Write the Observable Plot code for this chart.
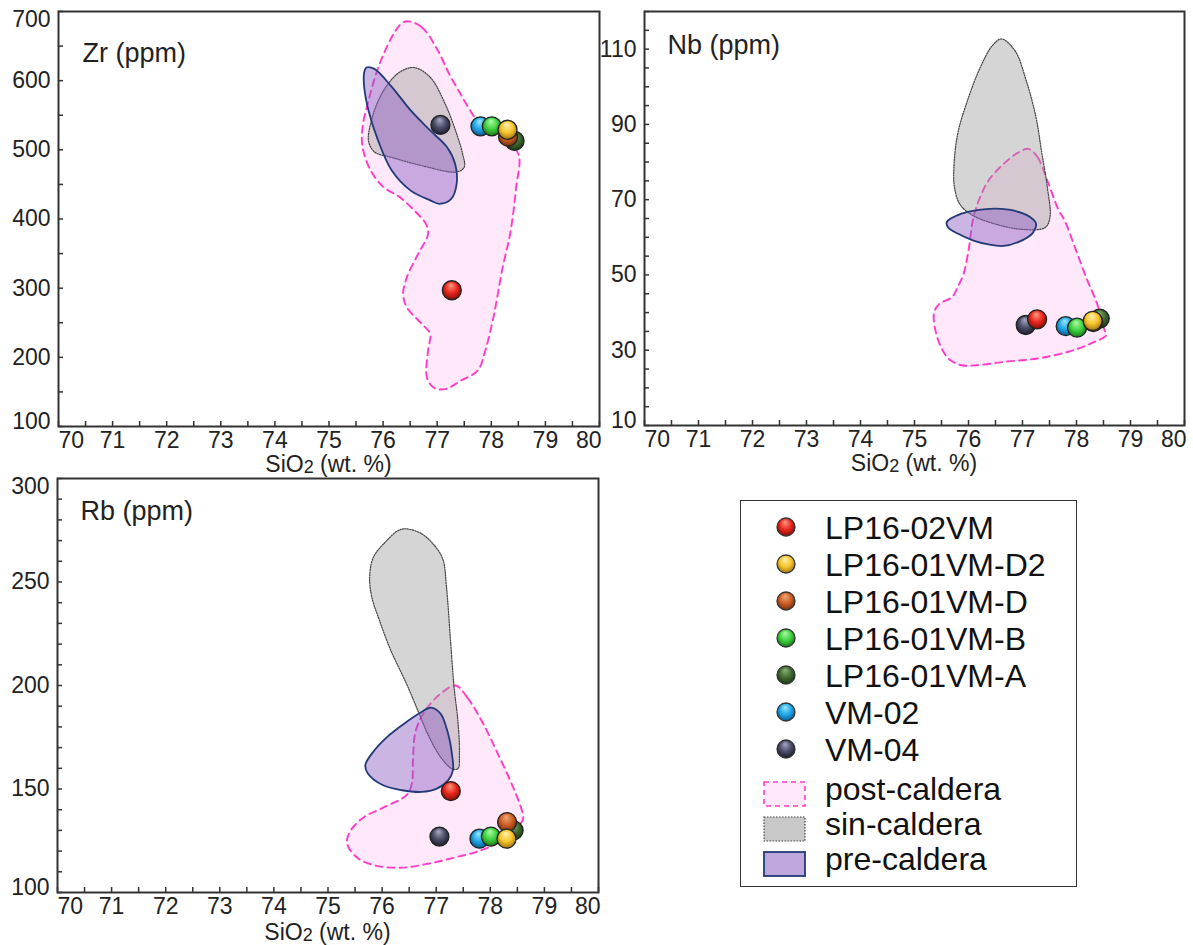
<!DOCTYPE html>
<html><head><meta charset="utf-8">
<script src="https://cdn.jsdelivr.net/npm/d3@7"></script>
<script src="https://cdn.jsdelivr.net/npm/@observablehq/plot@0.6"></script>
<style>
body{margin:0;background:#fff;font-family:"Liberation Sans",Arial,sans-serif;}
#root{position:relative;width:1193px;height:945px;overflow:hidden;background:#fff;}
.panel{position:absolute;}
.xlab{position:absolute;font-size:23px;color:#222;transform:translate(-50%,-50%);white-space:nowrap;line-height:1;}
.xlab span{font-size:18px;position:relative;top:1px;}
</style></head><body><div id="root"></div><script>
// ---- samples ----
const samples = ["LP16-02VM","LP16-01VM-D2","LP16-01VM-D","LP16-01VM-B","LP16-01VM-A","VM-02","VM-04"];
const sampleBase  = ["#e8261e","#f8c52c","#cc5f26","#3fd03f","#3f6a31","#1fa7e6","#4a4c66"];
const sampleLight = ["#ff9a80","#fff2b0","#f2a878","#b0fca8","#8ab47a","#9ee6ff","#a8aac6"];
const sampleDark  = ["#7a0c06","#9a7010","#6e2a0c","#167016","#1a3410","#0a5488","#1a1a2c"];
const sio2 = [77.27, 78.30, 78.31, 78.01, 78.43, 77.80, 77.06];
const zr = [297, 529, 519, 534, 513, 534, 536];
const nb = [38.2, 37.8, 37.5, 36.0, 38.4, 36.4, 36.7];
const rb = [149, 126, 134, 127, 130, 126, 127];
const drawOrder = [6, 5, 3, 4, 2, 1, 0];

// ---- fields [SiO2, ppm] ----
const zrPost = [[76.45,686],[76.72,677],[77.01,644],[77.22,610],[77.43,581],[77.61,557],[77.75,542],[78.14,523],[78.50,494],[78.46,446],[78.35,379],[78.21,330],[78.04,258],[77.89,210],[77.75,181],[77.43,166],[77.15,154],[76.94,156],[76.81,171],[76.83,210],[76.87,234],[76.72,248],[76.44,272],[76.37,292],[76.44,316],[76.65,350],[76.83,378],[76.79,393],[76.58,412],[76.30,432],[76.01,446],[75.77,470],[75.62,504],[75.62,533],[75.73,571],[75.91,619],[76.16,663],[76.33,682]];
const zrSin = [[76.57,619],[76.87,605],[77.15,566],[77.36,523],[77.47,494],[77.50,475],[77.36,468],[76.72,477],[76.16,489],[75.84,497],[75.73,513],[75.77,538],[75.91,571],[76.09,595],[76.30,612]];
const zrPre = [[75.69,619],[75.84,617],[76.16,591],[76.51,557],[76.87,528],[77.18,504],[77.33,480],[77.36,451],[77.26,429],[77.04,422],[76.87,427],[76.51,441],[76.16,470],[75.91,513],[75.73,557],[75.65,591],[75.65,612]];

const nbPost = [[77.11,83.5],[77.28,81.3],[77.46,75.1],[77.67,67.2],[77.78,64.5],[77.99,56.6],[78.20,48.6],[78.38,42.4],[78.52,35.3],[78.55,34.0],[78.27,31.8],[77.85,29.6],[77.28,27.8],[76.72,27.0],[76.15,26.0],[75.87,26.0],[75.66,27.4],[75.52,30.0],[75.40,34.5],[75.36,39.8],[75.45,42.2],[75.70,44.2],[75.80,46.8],[75.91,50.4],[76.01,57.4],[76.08,64.5],[76.19,69.8],[76.37,75.1],[76.65,79.5],[76.93,82.6]];
const nbSin = [[76.61,112.7],[76.86,109.6],[77.07,101.6],[77.25,91.9],[77.35,83.1],[77.46,73.3],[77.51,65.4],[77.42,62.6],[77.00,62.1],[76.58,63.2],[76.08,65.8],[75.84,68.8],[75.74,73.3],[75.73,78.6],[75.80,87.5],[75.98,96.3],[76.22,105.2],[76.44,110.9]];
const nbPre = [[75.60,64.1],[75.87,66.3],[76.15,67.2],[76.51,67.6],[76.86,67.0],[77.14,65.4],[77.25,63.7],[77.18,61.0],[76.93,58.8],[76.65,57.7],[76.37,58.1],[76.08,59.2],[75.80,61.0],[75.62,62.7]];

const rbPost = [[77.36,200],[77.58,194],[77.86,182],[78.14,167],[78.42,151],[78.60,138],[78.60,135],[78.42,130],[78.14,124],[77.79,120],[77.36,117],[76.87,114],[76.37,112],[75.88,113],[75.53,117],[75.35,124],[75.42,130],[75.67,136.5],[76.02,141],[76.45,147],[76.55,152.6],[76.57,164],[76.62,178],[76.80,188],[77.08,196]];
const rbSin = [[76.45,275.7],[76.73,273.3],[76.94,268.5],[77.12,261.2],[77.19,247.5],[77.26,223.4],[77.33,199.3],[77.40,183.2],[77.43,167.1],[77.40,159.8],[77.29,159.8],[77.08,165.5],[76.87,175.1],[76.66,188],[76.45,200.9],[76.16,217],[75.95,231.5],[75.81,242.7],[75.77,252.4],[75.84,262],[76.09,270.1],[76.30,274.9]];
const rbPre = [[76.90,189.3],[77.08,186.4],[77.22,176.7],[77.29,167.1],[77.31,159],[77.22,154.2],[77.01,150.2],[76.73,148.6],[76.37,149.4],[76.02,151.8],[75.74,157.4],[75.69,161.5],[75.81,167.1],[76.09,175.1],[76.45,182.4],[76.73,187.2]];

const fieldNames = ["post-caldera","sin-caldera","pre-caldera"];

// ---- ticks ----
const xMinor = d3.range(70, 80.25, 0.5);
const xLabels = d3.range(70, 80.5, 1);
const zrMinor = d3.range(100, 701, 50), zrLabels = d3.range(100, 701, 100);
const nbMinor = d3.range(10, 121, 5),   nbLabels = d3.range(10, 111, 20);
const rbMinor = d3.range(100, 301, 10), rbLabels = d3.range(100, 301, 50);

// ---- gradient defs ----
const NS = "http://www.w3.org/2000/svg";
const root = document.getElementById("root");
const defsSvg = document.createElementNS(NS, "svg");
defsSvg.setAttribute("width", 0); defsSvg.setAttribute("height", 0);
defsSvg.style.position = "absolute";
let defsHtml = "<defs>";
samples.forEach((s, i) => {
  defsHtml += `<radialGradient id="grad${i}" cx="50%" cy="45%" r="58%" fx="45%" fy="22%">
    <stop offset="0%" stop-color="${sampleLight[i]}"/>
    <stop offset="55%" stop-color="${sampleBase[i]}"/>
    <stop offset="100%" stop-color="${sampleDark[i]}"/></radialGradient>`;
});
defsHtml += "</defs>";
defsSvg.innerHTML = defsHtml;
root.appendChild(defsSvg);

const fieldStyles = [
  {fill: "#ff5ad2", fillOpacity: 0.14, stroke: "#ff3cc8", strokeWidth: 1.9, strokeDasharray: "7,5"},
  {fill: "#9a9a9a", fillOpacity: 0.42, stroke: "#444", strokeWidth: 1.2, strokeDasharray: "1.3,1.3"},
  {fill: "#8a5cc0", fillOpacity: 0.45, stroke: "#243a78", strokeWidth: 1.8}
];
const TXT = {fontSize: 23, fill: "#222"};

function panel({fields, values, yDomain, yMinor, yLabels, title, tdx, tdy, width, height, ml, mr, mt, mb, left, top, labOff}) {
  const pts = drawOrder.map(i => ({s: samples[i], x: sio2[i], y: values[i], g: `url(#grad${i})`}));
  const fieldMarks = fields.map((f, k) => Plot.line(f, {x: d => d[0], y: d => d[1], curve: "catmull-rom-closed", ...fieldStyles[k]}));
  const xFirst = xLabels[0], xLast = xLabels[xLabels.length - 1];
  const xMid = xLabels.slice(1, -1);
  const [y0, y1] = yDomain;
  const yBottom = yLabels.filter(v => v === y0);
  const yTop = yLabels.filter(v => v === y1);
  const yMid = yLabels.filter(v => v !== y0 && v !== y1);
  const p = Plot.plot({
    width, height, marginLeft: ml, marginRight: mr, marginTop: mt, marginBottom: mb,
    style: {background: "transparent", fontFamily: "'Liberation Sans', Arial, sans-serif", overflow: "visible"},
    x: {domain: [70, 80]},
    y: {domain: yDomain},
    color: {type: "identity"},
    marks: [
      ...fieldMarks,
      Plot.dot(pts, {x: "x", y: "y", r: 9.5, fill: "g", stroke: "#222", strokeWidth: 1.3}),
      Plot.axisX(xMinor, {tickSize: -5, tickFormat: () => "", label: null, stroke: "#333", strokeWidth: 1.5}),
      Plot.axisY(yMinor, {tickSize: -5, tickFormat: () => "", label: null, stroke: "#333", strokeWidth: 1.5}),
      Plot.text(xMid, {x: d => d, text: d => String(d), frameAnchor: "bottom", lineAnchor: "top", dy: 5, ...TXT}),
      Plot.text([xFirst], {x: d => d, text: d => String(d), frameAnchor: "bottom", lineAnchor: "top", dy: 5, textAnchor: "start", dx: 0, ...TXT}),
      Plot.text([xLast], {x: d => d, text: d => String(d), frameAnchor: "bottom", lineAnchor: "top", dy: 5, textAnchor: "end", dx: 2, ...TXT}),
      Plot.text(yMid, {y: d => d, text: d => String(d), frameAnchor: "left", textAnchor: "end", dx: -8, ...TXT}),
      Plot.text(yBottom, {y: d => d, text: d => String(d), frameAnchor: "left", textAnchor: "end", lineAnchor: "bottom", dx: -8, dy: 2, ...TXT}),
      Plot.text(yTop, {y: d => d, text: d => String(d), frameAnchor: "left", textAnchor: "end", lineAnchor: "top", dx: -8, dy: -1, ...TXT}),
      Plot.frame({stroke: "#333", strokeWidth: 2}),
      Plot.text([title], {text: d => d, frameAnchor: "top-left", dx: tdx, dy: tdy, lineAnchor: "top", textAnchor: "start", fontSize: 27, fill: "#222"})
    ]
  });
  p.classList.add("panel");
  p.style.left = left + "px";
  p.style.top = top + "px";
  root.appendChild(p);
  const lab = document.createElement("div");
  lab.className = "xlab";
  lab.innerHTML = "SiO<span>2</span> (wt. %)";
  lab.style.left = (left + ml + (width - ml - mr) / 2) + "px";
  lab.style.top = (top + height - mb + labOff) + "px";
  root.appendChild(lab);
}

panel({fields: [zrPost, zrSin, zrPre], values: zr, yDomain: [100, 700],
  yMinor: zrMinor, yLabels: zrLabels, title: "Zr (ppm)", tdx: 24, tdy: 31,
  width: 620, height: 480, ml: 58, mr: 21, mt: 11, mb: 54, left: 0, top: 0, labOff: 38});
panel({fields: [nbPost, nbSin, nbPre], values: nb, yDomain: [10, 120],
  yMinor: nbMinor, yLabels: nbLabels, title: "Nb (ppm)", tdx: 23, tdy: 23,
  width: 607, height: 480, ml: 58, mr: 9, mt: 11, mb: 55, left: 586, top: 0, labOff: 38});
panel({fields: [rbPost, rbSin, rbPre], values: rb, yDomain: [100, 300],
  yMinor: rbMinor, yLabels: rbLabels, title: "Rb (ppm)", tdx: 23, tdy: 22,
  width: 620, height: 478, ml: 57, mr: 22, mt: 11, mb: 53, left: 0, top: 467, labOff: 40});

// ---- legend ----
const leg = document.createElement("div");
leg.style.cssText = "position:absolute;left:740px;top:500px;width:337px;height:387px;border:1.5px solid #333;box-sizing:border-box;background:#fff;";
const lsvg = document.createElementNS(NS, "svg");
lsvg.setAttribute("width", 334); lsvg.setAttribute("height", 384);
lsvg.style.cssText = "position:absolute;left:0;top:0;font-family:'Liberation Sans',Arial,sans-serif;";
let lh = "";
samples.forEach((s, i) => {
  const cy = 26 + 37 * i;
  lh += `<circle cx="45" cy="${cy}" r="9" fill="url(#grad${i})" stroke="#333" stroke-width="1.3"/>`;
  lh += `<text x="84" y="${cy + 11.5}" font-size="32" fill="#111">${s}</text>`;
});
fieldNames.forEach((f, k) => {
  const cy = 293 + 35 * k;
  const st = fieldStyles[k];
  const op = k === 0 ? st.fillOpacity : (k === 1 ? 0.55 : 0.55);
  const dash = st.strokeDasharray ? `stroke-dasharray="${k === 1 ? "1.5,1.5" : "5,4"}"` : "";
  lh += `<rect x="23" y="${cy - 12}" width="41" height="24" fill="${st.fill}" fill-opacity="${op}" stroke="${st.stroke}" stroke-width="${k === 0 ? 1.6 : st.strokeWidth}" ${dash}/>`;
  lh += `<text x="84" y="${cy + 6}" font-size="32" fill="#111">${f}</text>`;
});
lsvg.innerHTML = lh;
leg.appendChild(lsvg);
root.appendChild(leg);
</script></body></html>
